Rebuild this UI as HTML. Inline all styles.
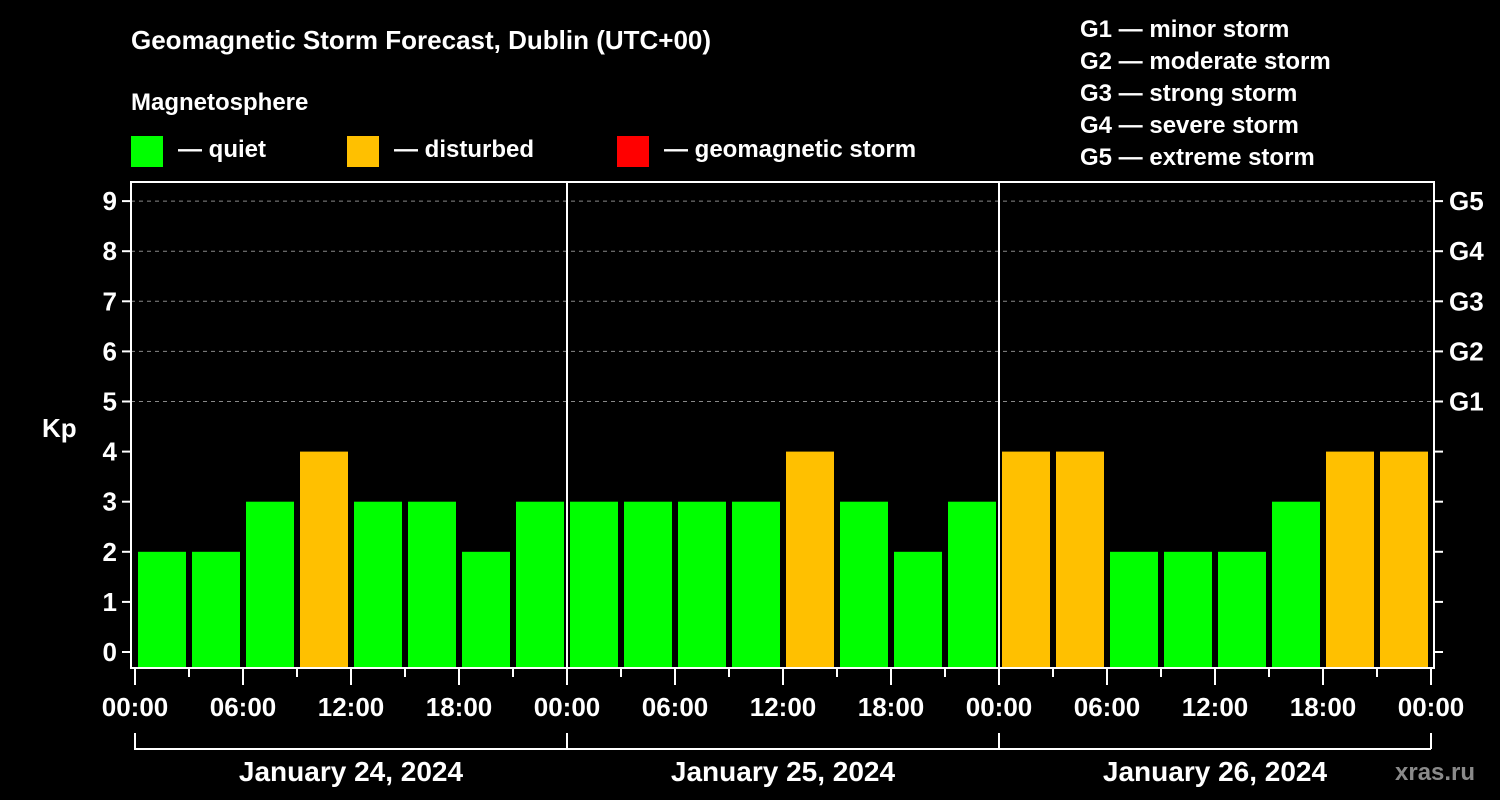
<!DOCTYPE html>
<html><head><meta charset="utf-8"><style>
html,body{margin:0;padding:0;background:#000;width:1500px;height:800px;overflow:hidden}
svg text{font-family:"Liberation Sans",Arial,sans-serif;font-weight:bold;fill:#fff}
</style></head><body>
<svg id="chart" width="1500" height="800" viewBox="0 0 1500 800" xmlns="http://www.w3.org/2000/svg">
<text x="131" y="49" font-size="26">Geomagnetic Storm Forecast, Dublin (UTC+00)</text>
<text x="131" y="110" font-size="24">Magnetosphere</text>
<g><rect x="131" y="136" width="32" height="31" fill="#00ff00"/><text x="178" y="157" font-size="24">— quiet</text></g>
<g><rect x="347" y="136" width="32" height="31" fill="#ffc000"/><text x="394" y="157" font-size="24">— disturbed</text></g>
<g><rect x="617" y="136" width="32" height="31" fill="#ff0000"/><text x="664" y="157" font-size="24">— geomagnetic storm</text></g>
<g font-size="24">
<text x="1080" y="37">G1 — minor storm</text>
<text x="1080" y="69">G2 — moderate storm</text>
<text x="1080" y="101">G3 — strong storm</text>
<text x="1080" y="133">G4 — severe storm</text>
<text x="1080" y="165">G5 — extreme storm</text>
</g>
<text x="42" y="437" font-size="26">Kp</text>
<g id="grid"></g><g id="bars"></g><g id="axes"></g>
<text x="1395" y="780" font-size="24" fill="#888" style="fill:#8a8a8a">xras.ru</text>
</svg>
<script>
const days = ["January 24, 2024","January 25, 2024","January 26, 2024"];
const kpValues = [2,2,3,4,3,3,2,3, 3,3,3,3,4,3,2,3, 4,4,2,2,2,3,4,4];
const yTicks = [0,1,2,3,4,5,6,7,8,9];
const gLabels = ["G1","G2","G3","G4","G5"];
const hourLabels = ["00:00","06:00","12:00","18:00"];
const NS="http://www.w3.org/2000/svg";
const X0=135, SLOT=54, L=131, R=1434, T=182, B=668;
const x = i => X0 + i*SLOT;
const y = v => 652 - 50.1*v;
function mk(tag, attrs, parent){const e=document.createElementNS(NS,tag);for(const k in attrs)e.setAttribute(k,attrs[k]);parent.appendChild(e);return e;}
const grid=document.getElementById('grid'), bars=document.getElementById('bars'), axes=document.getElementById('axes');
yTicks.forEach(v=>{
  if(v>=5){const g=mk('line',{x1:L,x2:R,y1:y(v),y2:y(v),stroke:'#888','stroke-width':1,'stroke-dasharray':'4,4'},grid);
  
  }
  const t=mk('line',{x1:L-9,x2:L,y1:y(v),y2:y(v),stroke:'#fff','stroke-width':2},axes);
  
  
  const lb=mk('text',{x:L-14,y:y(v)+9,'font-size':26,'text-anchor':'end'},axes);lb.textContent=v;
  
  
  const rt=mk('line',{x1:R,x2:R+9,y1:y(v),y2:y(v),stroke:'#fff','stroke-width':2},axes);
  
  
  if(v>=5){const gl=mk('text',{x:R+15,y:y(v)+9,'font-size':26},axes);gl.textContent=gLabels[v-5];
  
  }
});
kpValues.forEach((v,i)=>{
  const c = v>=5?'#ff0000':(v>=4?'#ffc000':'#00ff00');
  const r=mk('rect',{x:x(i)+3,y:y(v),width:48,height:B-1-y(v),fill:c},bars);
  
  
});
const fr=mk('rect',{x:L,y:T,width:R-L,height:B-T,fill:'none',stroke:'#fff','stroke-width':2},axes);


for(let d=1;d<days.length;d++){const s=mk('line',{x1:x(d*8),x2:x(d*8),y1:T,y2:B,stroke:'#fff','stroke-width':2},axes);

}
for(let i=0;i<=kpValues.length;i++){
  const major=i%2===0;
  const tk=mk('line',{x1:x(i),x2:x(i),y1:B,y2:B+(major?17:9),stroke:'#fff','stroke-width':2},axes);
  
  
  if(major){const lb=mk('text',{x:x(i),y:716,'font-size':26,'text-anchor':'middle'},axes);lb.textContent=hourLabels[(i/2)%4];
  
  }
}
days.forEach((d,k)=>{
  const x1=x(k*8), x2=x((k+1)*8);
  const br=mk('path',{d:`M${x1},733V749H${x2}`+(k===days.length-1?`M${x2},733V749`:''),fill:'none',stroke:'#fff','stroke-width':2},axes);
  
  
  const t=mk('text',{x:(x1+x2)/2,y:781,'font-size':28,'text-anchor':'middle'},axes);t.textContent=d;
  
  
});
</script>
</body></html>
